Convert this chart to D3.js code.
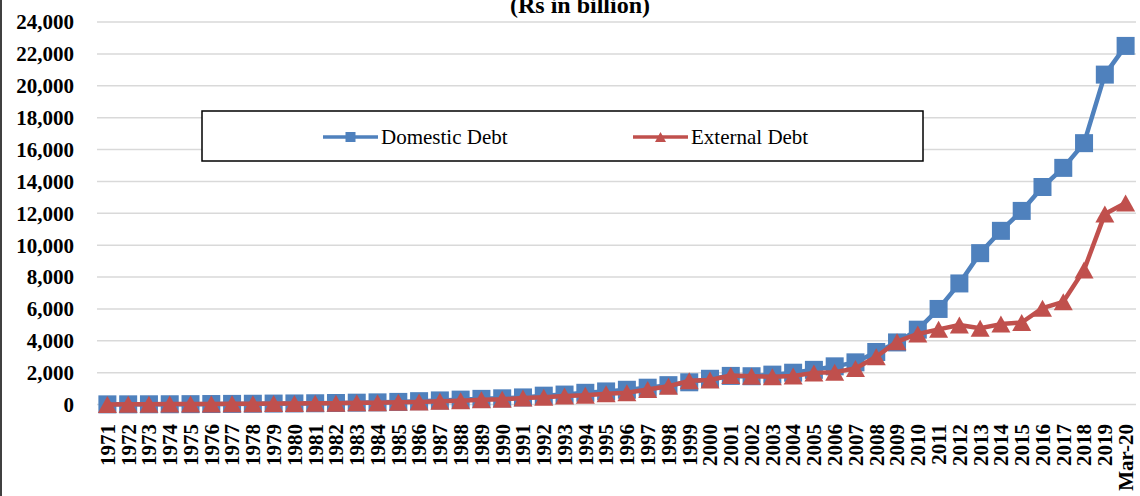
<!DOCTYPE html>
<html>
<head>
<meta charset="utf-8">
<title>Domestic and External Debt</title>
<script src="https://d3js.org/d3.v7.min.js"></script>
<style>
  body { margin: 0; background: #fff; }
  svg { display: block; }
  .ytick text, .xtick text { font-family: "Liberation Serif", "Times New Roman", serif; font-weight: bold; font-size: 21px; fill: #000; }
  .legend text { font-family: "Liberation Serif", "Times New Roman", serif; font-size: 21px; fill: #000; }
  .title { font-family: "Liberation Serif", "Times New Roman", serif; font-weight: bold; font-size: 24px; }
</style>
</head>
<body>
<svg width="1140" height="496"></svg>
<script>
// years on the x axis
const years = ['1971','1972','1973','1974','1975','1976','1977','1978','1979','1980',
  '1981','1982','1983','1984','1985','1986','1987','1988','1989','1990',
  '1991','1992','1993','1994','1995','1996','1997','1998','1999','2000',
  '2001','2002','2003','2004','2005','2006','2007','2008','2009','2010',
  '2011','2012','2013','2014','2015','2016','2017','2018','2019','Mar-20'];

// Rs in billion
const domesticDebt = [15,17,20,22,28,36,44,53,64,72,
  84,100,121,140,169,215,262,312,360,393,
  450,560,630,740,826,930,1060,1220,1400,1620,
  1800,1780,1880,2000,2180,2400,2650,3300,3900,4700,
  6000,7600,9500,10900,12150,13650,14850,16400,20700,22500];

const externalDebt = [12,15,25,35,38,45,52,60,68,72,
  80,90,110,120,140,165,205,245,300,330,
  415,465,540,590,680,740,950,1150,1490,1545,
  1825,1780,1750,1800,1990,2030,2270,3000,3950,4430,
  4720,4990,4790,5050,5150,6050,6450,8450,11950,12650];

const yTicks = [0,2000,4000,6000,8000,10000,12000,14000,16000,18000,20000,22000,24000];

const blue = '#4f81bd', red = '#c0504d';

const svg = d3.select('svg');

const x = d3.scalePoint().domain(years).range([97, 1136]).padding(0.5);
const y = d3.scaleLinear().domain([0, 24000]).range([404.6, 22]);

// left edge of the chart frame
svg.append('line')
  .attr('x1', 1).attr('x2', 1).attr('y1', 0).attr('y2', 496)
  .attr('stroke', '#404040').attr('stroke-width', 2);

// title is cut at the top, as in the original
svg.append('text').attr('class', 'title')
  .attr('x', 580).attr('y', 13).attr('text-anchor', 'middle')
  .text('(Rs in billion)');

// gridlines + y labels
const yg = svg.append('g').attr('class', 'ytick');
yg.selectAll('line').data(yTicks).enter().append('line')
  .attr('x1', 97).attr('x2', 1136)
  .attr('y1', d => y(d)).attr('y2', d => y(d))
  .attr('stroke', '#d9d9d9').attr('stroke-width', 1.5);
yg.selectAll('text').data(yTicks).enter().append('text')
  .attr('x', 74).attr('y', d => y(d)).attr('dy', '0.35em')
  .attr('text-anchor', 'end')
  .text(d => d3.format(',')(d));

// x labels, rotated
svg.append('g').attr('class', 'xtick')
  .selectAll('text').data(years).enter().append('text')
  .attr('transform', d => `translate(${x(d)},424) rotate(-90)`)
  .attr('dy', '0.35em')
  .attr('text-anchor', 'end')
  .text(d => d);

const line = d3.line().x((d, i) => x(years[i])).y(d => y(d));

const tri = (cx, cy, w, h) => `M${cx},${cy - h / 2}L${cx + w / 2},${cy + h / 2}L${cx - w / 2},${cy + h / 2}Z`;

// domestic series
svg.append('path').datum(domesticDebt)
  .attr('d', line).attr('fill', 'none')
  .attr('stroke', blue).attr('stroke-width', 4.5).attr('stroke-linejoin', 'round');
svg.append('g').selectAll('rect').data(domesticDebt).enter().append('rect')
  .attr('x', (d, i) => x(years[i]) - 9).attr('y', d => y(d) - 9)
  .attr('width', 18).attr('height', 18).attr('fill', blue);

// external series
svg.append('path').datum(externalDebt)
  .attr('d', line).attr('fill', 'none')
  .attr('stroke', red).attr('stroke-width', 4.5).attr('stroke-linejoin', 'round');
svg.append('g').selectAll('path').data(externalDebt).enter().append('path')
  .attr('d', (d, i) => tri(x(years[i]), y(d), 19, 17))
  .attr('fill', red);

// legend
const lg = svg.append('g').attr('class', 'legend');
lg.append('rect').attr('x', 202).attr('y', 111).attr('width', 721).attr('height', 50)
  .attr('fill', '#fff').attr('stroke', '#000').attr('stroke-width', 1.5);

const items = [
  {name: 'Domestic Debt', color: blue, x0: 323, shape: 'square'},
  {name: 'External Debt', color: red, x0: 633, shape: 'triangle'}
];
items.forEach(it => {
  lg.append('line').attr('x1', it.x0).attr('x2', it.x0 + 55).attr('y1', 137).attr('y2', 137)
    .attr('stroke', it.color).attr('stroke-width', 3.5);
  if (it.shape === 'square') {
    lg.append('rect').attr('x', it.x0 + 27.5 - 5).attr('y', 132).attr('width', 10).attr('height', 10)
      .attr('fill', it.color);
  } else {
    lg.append('path').attr('d', tri(it.x0 + 27.5, 137, 11, 10)).attr('fill', it.color);
  }
  lg.append('text').attr('x', it.x0 + 58).attr('y', 137).attr('dy', '0.35em').text(it.name);
});
</script>
</body>
</html>
